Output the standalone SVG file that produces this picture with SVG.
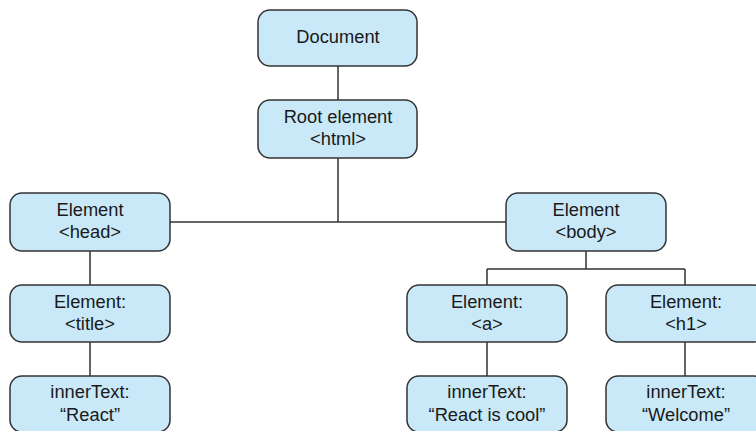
<svg xmlns="http://www.w3.org/2000/svg" width="756" height="431" viewBox="0 0 756 431">
<style>
.box{fill:#c9e9f8;stroke:#333;stroke-width:1.5}
.t{font-family:"Liberation Sans",Arial,sans-serif;font-size:18.3px;fill:#1a1a1a;text-anchor:middle}
.c{fill:none;stroke:#333;stroke-width:1.5}
</style>
<rect width="756" height="431" fill="#fff"/>
<g id="connectors">
<path class="c" d="M338 66V100"/>
<path class="c" d="M338 158V222M170 222H506"/>
<path class="c" d="M90 251V285M90 342V376"/>
<path class="c" d="M586 251V269M487 269H685M487 269V285M685 269V285"/>
<path class="c" d="M487 342V376M685 342V376"/>
</g>
<g id="document"><rect class="box" x="258" y="10" width="159" height="56" rx="12"/><text class="t" x="338" y="43">Document</text></g>
<g id="root"><rect class="box" x="258" y="100" width="159" height="58" rx="12"/><text class="t" x="338" y="123">Root element</text><text class="t" x="338" y="145">&lt;html&gt;</text></g>
<g id="head"><rect class="box" x="10" y="193" width="160" height="58" rx="12"/><text class="t" x="90" y="216">Element</text><text class="t" x="90" y="238">&lt;head&gt;</text></g>
<g id="body"><rect class="box" x="506" y="193" width="160" height="58" rx="12"/><text class="t" x="586" y="216">Element</text><text class="t" x="586" y="238">&lt;body&gt;</text></g>
<g id="title"><rect class="box" x="10" y="285" width="160" height="57" rx="12"/><text class="t" x="90" y="308">Element:</text><text class="t" x="90" y="330">&lt;title&gt;</text></g>
<g id="a"><rect class="box" x="407" y="285" width="160" height="57" rx="12"/><text class="t" x="487" y="308">Element:</text><text class="t" x="487" y="330">&lt;a&gt;</text></g>
<g id="h1"><rect class="box" x="606" y="285" width="160" height="57" rx="12"/><text class="t" x="686" y="308">Element:</text><text class="t" x="686" y="330">&lt;h1&gt;</text></g>
<g id="react"><rect class="box" x="10" y="376" width="160" height="56" rx="12"/><text class="t" x="90" y="398">innerText:</text><text class="t" x="90" y="421">“React”</text></g>
<g id="cool"><rect class="box" x="407" y="376" width="160" height="56" rx="12"/><text class="t" x="487" y="398">innerText:</text><text class="t" x="487" y="421">“React is cool”</text></g>
<g id="welcome"><rect class="box" x="606" y="376" width="160" height="56" rx="12"/><text class="t" x="686" y="398">innerText:</text><text class="t" x="686" y="421">“Welcome”</text></g>
</svg>
